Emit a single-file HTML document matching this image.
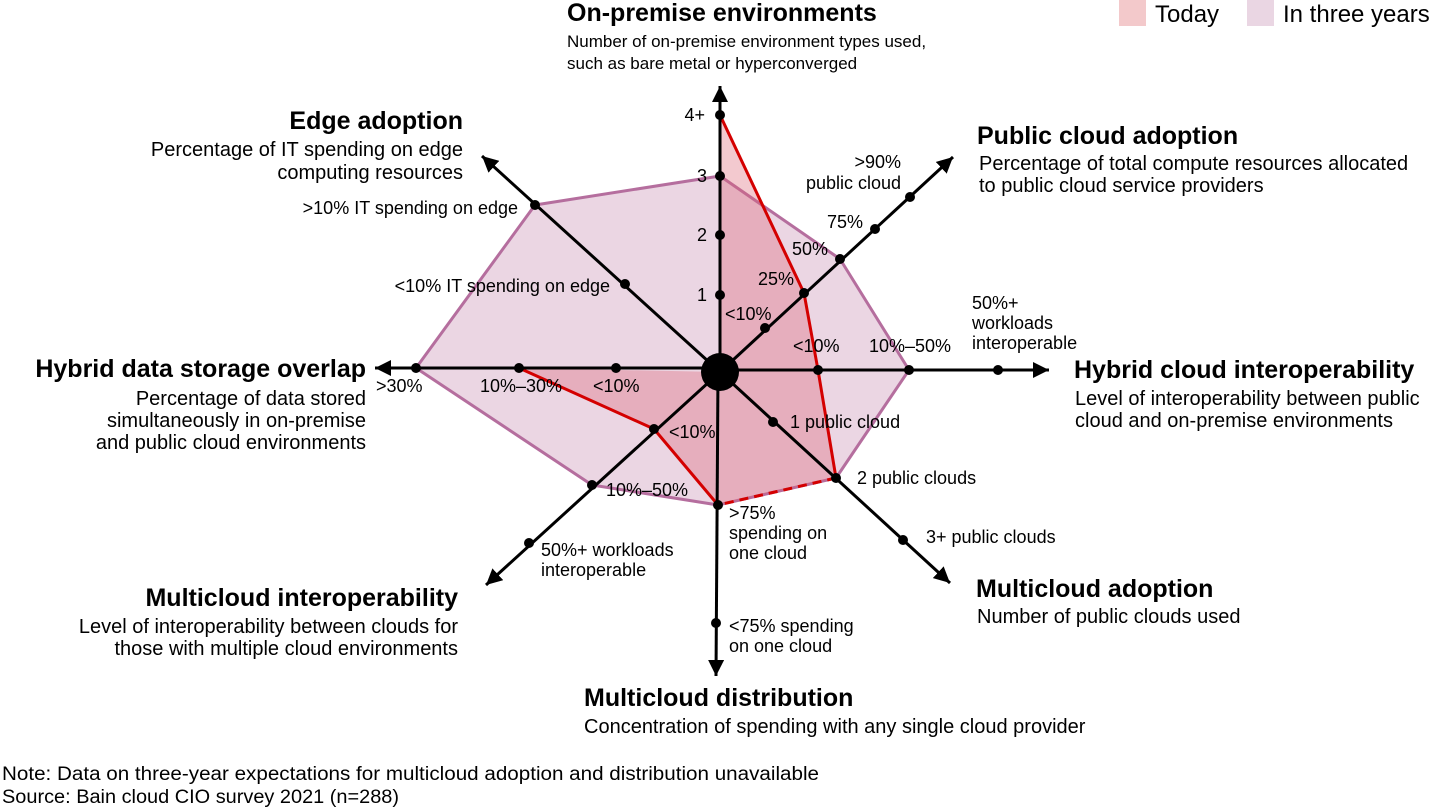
<!DOCTYPE html>
<html><head><meta charset="utf-8"><style>
body{margin:0;background:#fff;}
svg{display:block;font-family:"Liberation Sans",Arial,sans-serif;}
.t{font-weight:bold;font-size:25px;fill:#000}
.s{font-size:20px;fill:#000}
.l{font-size:18px;fill:#000}
</style></head><body>
<svg width="1440" height="810" viewBox="0 0 1440 810" xmlns="http://www.w3.org/2000/svg">
<defs>
<marker id="ar" viewBox="0 0 10 10" refX="10" refY="5" markerWidth="16" markerHeight="16" orient="auto" markerUnits="userSpaceOnUse"><path d="M0,0 L10,5 L0,10z" fill="#000"/></marker></defs>
<!-- legend -->
<rect x="1119" y="0" width="27" height="26" fill="#f3c9cb"/>
<text x="1155" y="22" style="font-size:24px">Today</text>
<rect x="1247" y="0" width="27" height="26" fill="#ead6e3"/>
<text x="1283" y="22" style="font-size:24px">In three years</text>
<!-- polygons -->
<polygon points="720,176 840,259 909,370 836,478 718,505 592,485 416,368 535,205" fill="#ebd6e3" stroke="#b56e9e" stroke-width="3" stroke-linejoin="round"/>
<polygon points="720,115 804,293 818,370 836,478 718,505 654,429 519,368 720,372" fill="rgba(222,100,118,0.35)" stroke="none"/>
<polyline points="720,115 804,293 818,370 836,478" fill="none" stroke="#d40000" stroke-width="3"/>
<line x1="836" y1="478" x2="718" y2="505" stroke="#d40000" stroke-width="3" stroke-dasharray="9,6"/>
<polyline points="718,505 654,429 519,368" fill="none" stroke="#d40000" stroke-width="3"/>
<!-- axes -->
<g stroke="#000" stroke-width="3">
<line x1="720" y1="372" x2="720" y2="86" marker-end="url(#ar)"/>
<line x1="720" y1="372" x2="953" y2="157" marker-end="url(#ar)"/>
<line x1="720" y1="370" x2="1049" y2="370" marker-end="url(#ar)"/>
<line x1="720" y1="372" x2="950" y2="583" marker-end="url(#ar)"/>
<line x1="718" y1="372" x2="716" y2="676" marker-end="url(#ar)"/>
<line x1="720" y1="372" x2="486" y2="585" marker-end="url(#ar)"/>
<line x1="720" y1="368" x2="375" y2="368" marker-end="url(#ar)"/>
<line x1="720" y1="372" x2="482" y2="156" marker-end="url(#ar)"/>
</g>
<circle cx="720" cy="372" r="19" fill="#000"/>
<g fill="#000">
<circle cx="720" cy="115" r="5"/><circle cx="720" cy="176" r="5"/><circle cx="720" cy="235" r="5"/><circle cx="720" cy="295" r="5"/>
<circle cx="765" cy="328" r="5"/><circle cx="804" cy="293" r="5"/><circle cx="840" cy="259" r="5"/><circle cx="875" cy="229" r="5"/><circle cx="910" cy="197" r="5"/>
<circle cx="818" cy="370" r="5"/><circle cx="909" cy="370" r="5"/><circle cx="998" cy="370" r="5"/>
<circle cx="773" cy="422" r="5"/><circle cx="836" cy="478" r="5"/><circle cx="903" cy="540" r="5"/>
<circle cx="718" cy="505" r="5"/><circle cx="716" cy="623" r="5"/>
<circle cx="654" cy="429" r="5"/><circle cx="592" cy="485" r="5"/><circle cx="529" cy="543" r="5"/>
<circle cx="616" cy="368" r="5"/><circle cx="519" cy="368" r="5"/><circle cx="416" cy="368" r="5"/>
<circle cx="625" cy="284" r="5"/><circle cx="535" cy="205" r="5"/>
</g>
<!-- tick labels -->
<g class="l">
<text x="705" y="121" text-anchor="end">4+</text>
<text x="707" y="182" text-anchor="end">3</text>
<text x="707" y="241" text-anchor="end">2</text>
<text x="707" y="301" text-anchor="end">1</text>
<text x="725" y="320">&lt;10%</text>
<text x="794" y="285" text-anchor="end">25%</text>
<text x="828" y="255" text-anchor="end">50%</text>
<text x="863" y="228" text-anchor="end">75%</text>
<text x="901" y="168" text-anchor="end">&gt;90%</text>
<text x="901" y="189" text-anchor="end">public cloud</text>
<text x="793" y="352">&lt;10%</text>
<text x="869" y="352">10%–50%</text>
<text x="972" y="309">50%+</text>
<text x="972" y="329">workloads</text>
<text x="972" y="349">interoperable</text>
<text x="790" y="428">1 public cloud</text>
<text x="857" y="484">2 public clouds</text>
<text x="926" y="543">3+ public clouds</text>
<text x="729" y="519">&gt;75%</text>
<text x="729" y="539">spending on</text>
<text x="729" y="559">one cloud</text>
<text x="729" y="632">&lt;75% spending</text>
<text x="729" y="652">on one cloud</text>
<text x="669" y="438">&lt;10%</text>
<text x="606" y="496">10%–50%</text>
<text x="541" y="556">50%+ workloads</text>
<text x="541" y="576">interoperable</text>
<text x="593" y="392">&lt;10%</text>
<text x="480" y="392">10%–30%</text>
<text x="376" y="392">&gt;30%</text>
<text x="610" y="292" text-anchor="end">&lt;10% IT spending on edge</text>
<text x="518" y="214" text-anchor="end">&gt;10% IT spending on edge</text>
</g>
<!-- titles -->
<text class="t" x="567" y="21">On-premise environments</text>
<text class="s" x="567" y="47" style="font-size:17px">Number of on-premise environment types used,</text>
<text class="s" x="567" y="69" style="font-size:17px">such as bare metal or hyperconverged</text>
<text class="t" x="463" y="129" text-anchor="end">Edge adoption</text>
<text class="s" x="463" y="156" text-anchor="end">Percentage of IT spending on edge</text>
<text class="s" x="463" y="179" text-anchor="end">computing resources</text>
<text class="t" x="977" y="144">Public cloud adoption</text>
<text class="s" x="979" y="170">Percentage of total compute resources allocated</text>
<text class="s" x="979" y="192">to public cloud service providers</text>
<text class="t" x="1074" y="378">Hybrid cloud interoperability</text>
<text class="s" x="1075" y="405">Level of interoperability between public</text>
<text class="s" x="1075" y="427">cloud and on-premise environments</text>
<text class="t" x="366" y="377" text-anchor="end">Hybrid data storage overlap</text>
<text class="s" x="366" y="405" text-anchor="end">Percentage of data stored</text>
<text class="s" x="366" y="427" text-anchor="end">simultaneously in on-premise</text>
<text class="s" x="366" y="449" text-anchor="end">and public cloud environments</text>
<text class="t" x="976" y="597">Multicloud adoption</text>
<text class="s" x="977" y="623">Number of public clouds used</text>
<text class="t" x="458" y="606" text-anchor="end">Multicloud interoperability</text>
<text class="s" x="458" y="633" text-anchor="end">Level of interoperability between clouds for</text>
<text class="s" x="458" y="655" text-anchor="end">those with multiple cloud environments</text>
<text class="t" x="584" y="706">Multicloud distribution</text>
<text class="s" x="584" y="733">Concentration of spending with any single cloud provider</text>
<text class="s" x="2" y="780" style="font-size:19px" textLength="817" lengthAdjust="spacingAndGlyphs">Note: Data on three-year expectations for multicloud adoption and distribution unavailable</text>
<text class="s" x="2" y="803" style="font-size:19px" textLength="397" lengthAdjust="spacingAndGlyphs">Source: Bain cloud CIO survey 2021 (n=288)</text>
</svg>
</body></html>
